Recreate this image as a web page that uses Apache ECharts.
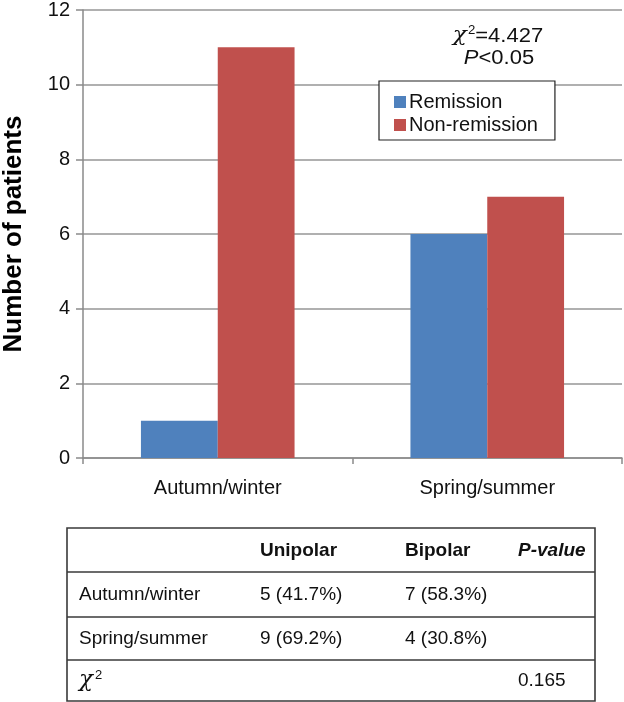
<!DOCTYPE html>
<html>
<head>
<meta charset="utf-8">
<script src="https://cdn.jsdelivr.net/npm/echarts@6/dist/echarts.min.js"></script>
<style>
html,body{margin:0;padding:0;background:#fff;}
#chart{width:624px;height:702px;}
</style>
</head>
<body>
<div id="chart"></div>
<script>
// ---- data ----
const categories = ['Autumn/winter', 'Spring/summer'];
const remission = [1, 6];
const nonRemission = [11, 7];
const seriesNames = ['Remission', 'Non-remission'];
const yTicks = [0, 2, 4, 6, 8, 10, 12];
const statChi = '4.427';
const statP = '0.05';
const tableHeader = ['', 'Unipolar', 'Bipolar', 'P-value'];
const tableRowLabels = ['Autumn/winter', 'Spring/summer', 'χ2'];
const tableUnipolar = ['5 (41.7%)', '9 (69.2%)', ''];
const tableBipolar = ['7 (58.3%)', '4 (30.8%)', ''];
const tablePvalue = ['', '', '0.165'];

const FONT = '"Liberation Sans", Arial, sans-serif';
const chart = echarts.init(document.getElementById('chart'), null, {renderer: 'canvas'});

// ---- table graphics ----
const tLeft = 67, tRight = 595;
const rowLines = [528, 572, 617, 660, 701];
const colX = [79, 260, 405, 518];
const TXT = '#111';
const tableGraphics = [];
tableGraphics.push({type: 'rect', shape: {x: tLeft, y: rowLines[0], width: tRight - tLeft, height: rowLines[4] - rowLines[0]},
  style: {fill: '#fff', stroke: '#3a3a3a', lineWidth: 1.6}, z: 10});
for (let i = 1; i < rowLines.length - 1; i++) {
  tableGraphics.push({type: 'line', shape: {x1: tLeft, y1: rowLines[i], x2: tRight, y2: rowLines[i]},
    style: {stroke: '#3a3a3a', lineWidth: 1.4}, z: 11});
}
function cellY(r) { return (rowLines[r] + rowLines[r + 1]) / 2; }
tableHeader.forEach((h, c) => {
  if (!h) return;
  tableGraphics.push({type: 'text', x: colX[c], y: cellY(0) + 1, z: 12,
    style: {text: h, font: (c === 3 ? 'italic ' : '') + 'bold 19px ' + FONT, fill: TXT, verticalAlign: 'middle'}});
});
tableRowLabels.forEach((lab, r) => {
  const y = cellY(r + 1);
  if (lab === 'χ2') {
    tableGraphics.push({type: 'text', x: colX[0], y: y, z: 12,
      style: {rich: {i: {font: 'italic 23px "DejaVu Serif", serif', fill: TXT},
                     s: {font: '13px ' + FONT, fill: TXT, verticalAlign: 'top', padding: [0, 0, 11, 2]}},
        text: '{i|χ}{s|2}', verticalAlign: 'middle'}});
  } else {
    tableGraphics.push({type: 'text', x: colX[0], y: y, z: 12, style: {text: lab, font: '19px ' + FONT, fill: TXT, verticalAlign: 'middle'}});
  }
  [tableUnipolar, tableBipolar, tablePvalue].forEach((arr, k) => {
    if (arr[r]) tableGraphics.push({type: 'text', x: colX[k + 1], y: y, z: 12,
      style: {text: arr[r], font: '19px ' + FONT, fill: TXT, verticalAlign: 'middle'}});
  });
});

const option = {
  backgroundColor: '#fff',
  animation: false,
  textStyle: {fontFamily: FONT},
  grid: {left: 83, right: 2, top: 10, bottom: 244, containLabel: false, outerBoundsMode: 'none'},
  legend: {
    left: 379, top: 81, orient: 'vertical',
    data: seriesNames,
    itemWidth: 12, itemHeight: 12, itemGap: 3,
    padding: [11, 17, 5, 15],
    borderColor: '#222', borderWidth: 1.2, backgroundColor: '#fff',
    textStyle: {fontSize: 20, color: TXT, fontFamily: FONT, padding: [0, 0, 0, -2]},
    icon: 'rect'
  },
  xAxis: {
    type: 'category', data: categories,
    axisLine: {show: true, lineStyle: {color: '#8a8a8a', width: 1.5}},
    axisTick: {show: true, length: 6, alignWithLabel: false, lineStyle: {color: '#8a8a8a', width: 1.5}},
    axisLabel: {fontSize: 20, color: TXT, margin: 20, fontFamily: FONT}
  },
  yAxis: {
    type: 'value', min: yTicks[0], max: yTicks[yTicks.length - 1], interval: yTicks[1] - yTicks[0],
    name: 'Number of patients', nameLocation: 'middle', nameGap: 56,
    nameTextStyle: {fontSize: 26, fontWeight: 'bold', color: '#000', fontFamily: FONT},
    axisLine: {show: true, lineStyle: {color: '#8a8a8a', width: 1.5}},
    axisTick: {show: true, length: 7, lineStyle: {color: '#8a8a8a', width: 1.5}},
    axisLabel: {fontSize: 20, color: TXT, margin: 13, fontFamily: FONT},
    splitLine: {show: true, lineStyle: {color: '#969696', width: 1.5}}
  },
  series: [
    {name: seriesNames[0], type: 'bar', data: remission, barGap: '0%', barCategoryGap: '43%',
      itemStyle: {color: '#4F81BD'}},
    {name: seriesNames[1], type: 'bar', data: nonRemission, barGap: '0%', barCategoryGap: '43%',
      itemStyle: {color: '#C0504D'}}
  ],
  graphic: [
    {type: 'text', x: 498, y: 36, scaleX: 1.1, style: {
      rich: {
        i: {font: 'italic 21px "DejaVu Serif", serif', fill: TXT},
        s: {font: '12px ' + FONT, fill: TXT, verticalAlign: 'top', padding: [0, 0, 10, 1]},
        t: {font: '20px ' + FONT, fill: TXT}
      },
      text: '{i|χ}{s|2}{t|=' + statChi + '}',
      align: 'center', verticalAlign: 'middle'}},
    {type: 'text', x: 499, y: 58, scaleX: 1.1, style: {
      rich: {t: {font: '20px ' + FONT, fill: TXT}, ip: {font: 'italic 20px ' + FONT, fill: TXT}},
      text: '{ip|P}{t|<' + statP + '}',
      align: 'center', verticalAlign: 'middle'}}
  ].concat(tableGraphics)
};
chart.setOption(option);
</script>
</body>
</html>
